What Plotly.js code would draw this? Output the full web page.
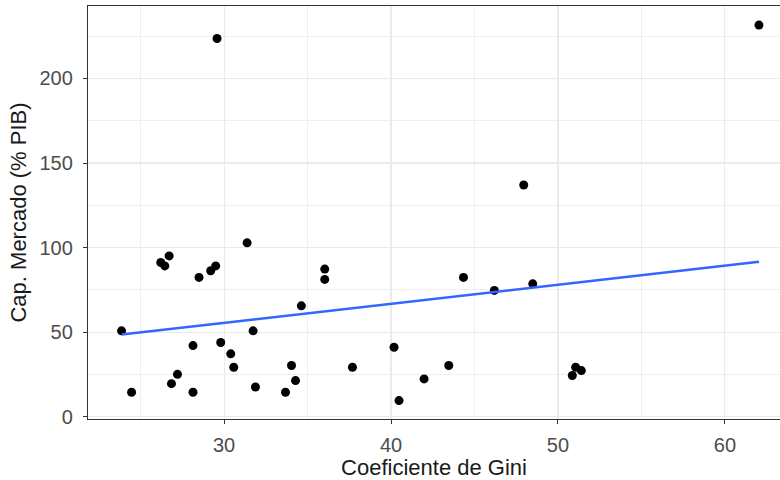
<!DOCTYPE html>
<html>
<head>
<meta charset="utf-8">
<script src="https://cdn.plot.ly/plotly-3.0.1.min.js"></script>
<style>html,body{margin:0;padding:0;background:#fff;}#chart{width:780px;height:480px;}</style>
</head>
<body>
<div id="chart"></div>
<script>
// Gini coefficient (x) and market capitalisation % of GDP (y)
const gini = [23.86, 24.46, 26.21, 26.45, 26.71, 26.85, 27.21, 28.14, 28.14, 28.50,
              29.20, 29.50, 29.80, 30.40, 30.58, 31.38, 31.74, 31.88, 33.68, 34.04,
              34.28, 34.63, 36.03, 36.03, 29.58, 37.69, 40.18, 40.48, 41.98, 43.46,
              44.34, 46.19, 48.49, 50.86, 51.06, 51.40, 62.04, 47.95];
const capMercado = [50.8, 14.5, 91.2, 89.2, 95.1, 19.6, 25.1, 42.1, 14.5, 82.4,
                    86.3, 89.2, 43.9, 37.2, 29.3, 102.8, 50.8, 17.6, 14.5, 30.3,
                    21.4, 65.6, 87.3, 81.2, 223.6, 29.3, 41.1, 9.6, 22.4, 30.3,
                    82.4, 74.7, 78.6, 24.4, 29.3, 27.3, 231.5, 137.0];
// linear fit line (geom_smooth lm) endpoints
const fitX = [23.86, 62.04];
const fitY = [48.6, 91.6];

const xTicks = [30, 40, 50, 60];
const yTicks = [0, 50, 100, 150, 200];
const xMinor = [25, 35, 45, 55];
const yMinor = [25, 75, 125, 175, 225];

const traces = [
  {x: gini, y: capMercado, type: 'scatter', mode: 'markers',
   marker: {color: '#000000', size: 9}, hoverinfo: 'x+y'},
  {x: fitX, y: fitY, type: 'scatter', mode: 'lines',
   line: {color: '#3366FF', width: 2.5}}
];

const layout = {
  width: 780, height: 480,
  margin: {l: 88, r: 0, t: 6, b: 61},
  paper_bgcolor: '#ffffff', plot_bgcolor: '#ffffff',
  showlegend: false,
  font: {family: '"Liberation Sans", Arial, sans-serif', color: '#000000'},
  xaxis: {
    range: [21.85, 63.3],
    tickmode: 'array', tickvals: xTicks, ticktext: xTicks.map(String),
    ticks: 'outside', ticklen: 4, tickwidth: 1, tickcolor: '#333333',
    ticklabelstandoff: 4,
    tickfont: {size: 20, color: '#4D4D4D'},
    showgrid: true, gridcolor: '#EBEBEB', gridwidth: 1.1,
    minor: {tickmode: 'array', tickvals: xMinor, showgrid: true, gridcolor: '#EDEDED', gridwidth: 0.9},
    zeroline: false,
    showline: true, linecolor: '#333333', linewidth: 1.2, mirror: true,
    title: {text: 'Coeficiente de Gini', font: {size: 22, color: '#1A1A1A'}, standoff: 6}
  },
  yaxis: {
    range: [-1.3, 242.8],
    tickmode: 'array', tickvals: yTicks, ticktext: yTicks.map(String),
    ticks: 'outside', ticklen: 4, tickwidth: 1, tickcolor: '#333333',
    ticklabelstandoff: 6,
    tickfont: {size: 20, color: '#4D4D4D'},
    showgrid: true, gridcolor: '#EBEBEB', gridwidth: 1.1,
    minor: {tickmode: 'array', tickvals: yMinor, showgrid: true, gridcolor: '#EDEDED', gridwidth: 0.9},
    zeroline: false,
    showline: true, linecolor: '#333333', linewidth: 1.2,
    title: {text: 'Cap. Mercado (% PIB)', font: {size: 22, color: '#1A1A1A'}, standoff: 6}
  }
};

Plotly.newPlot('chart', traces, layout, {staticPlot: true, displayModeBar: false});
</script>
</body>
</html>
